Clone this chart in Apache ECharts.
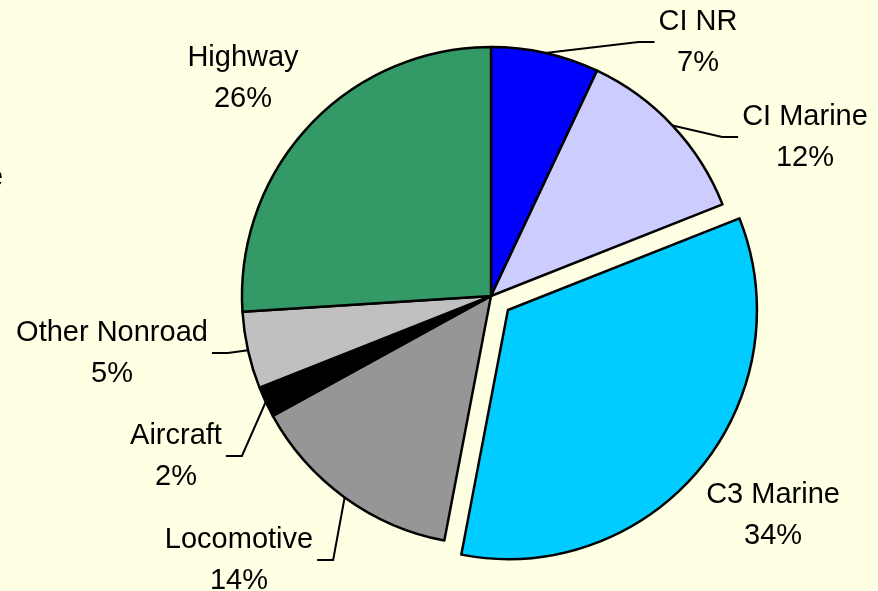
<!DOCTYPE html>
<html>
<head>
<meta charset="utf-8">
<script src="https://cdn.jsdelivr.net/npm/echarts@6/dist/echarts.min.js"></script>
<style>
  html, body { margin: 0; padding: 0; background: #FFFFE4; }
  #divPie { width: 878px; height: 591px; }
</style>
</head>
<body>
<div id="divPie"></div>
<script>
// data, clockwise from 12 o'clock
var arrNames = ['CI NR', 'CI Marine', 'C3 Marine', 'Locomotive', 'Aircraft', 'Other Nonroad', 'Highway'];
var arrPct = [7, 12, 34, 14, 2, 5, 26];
var arrColors = ['#0000FF', '#CCCCFF', '#00CCFF', '#969696', '#000000', '#C0C0C0', '#339966'];
var arrLeader = [true, true, false, true, true, true, false];
// label block centres (px), Excel style placement; null = leave to pie layout
var arrLabelPos = [[698, 42], [805, 137], null, [239, 560], [176, 456], [112, 353], [243, 78]];

var chartPie = echarts.init(document.getElementById('divPie'));

var arrData = [];
for (var intI = 0; intI < arrNames.length; intI++) {
    var objItem = {
        name: arrNames[intI],
        value: arrPct[intI],
        itemStyle: { color: arrColors[intI] },
        labelLine: { show: arrLeader[intI] }
    };
    if (arrNames[intI] == 'C3 Marine') {
        // exploded slice: its label sits in the select state, so steer it with the guide lengths
        objItem.selected = true;
        objItem.labelLine.length = 73;
        objItem.labelLine.length2 = 12;
    };
    arrData.push(objItem);
};

var optPie = {
    backgroundColor: '#FFFFE4',
    animation: false,
    graphic: [{
        type: 'text',
        left: -13,
        top: 163,
        style: { text: 'e', font: '29px "Liberation Sans", Arial', fill: '#000' }
    }],
    series: [{
        type: 'pie',
        center: [491, 296],
        radius: 249,
        startAngle: 90,
        clockwise: true,
        avoidLabelOverlap: false,
        selectedMode: 'single',
        selectedOffset: 22,
        emphasis: { disabled: true },
        select: { itemStyle: { borderColor: '#000', borderWidth: 2.5 } },
        itemStyle: { borderColor: '#000', borderWidth: 2.5 },
        label: {
            show: true,
            position: 'outside',
            formatter: '{b}\n{c}%',
            color: '#000',
            fontFamily: '"Liberation Sans", Arial',
            fontSize: 29,
            lineHeight: 41,
            align: 'center'
        },
        labelLine: {
            show: true,
            length: 20,
            length2: 16,
            lineStyle: { color: '#000', width: 2 }
        },
        labelLayout: function(params) {
            var pos = arrLabelPos[params.dataIndex];
            if (!pos) {
                return { align: 'center', verticalAlign: 'middle' };
            };
            var w = params.labelRect.width;
            var out = { x: pos[0], y: pos[1], align: 'center', verticalAlign: 'middle' };
            if (arrLeader[params.dataIndex] && params.labelLinePoints) {
                var start = params.labelLinePoints[0];
                var endX, bendX;
                if (pos[0] > 491) {
                    endX = pos[0] - w / 2 - 4;
                    bendX = endX - 16;
                } else {
                    endX = pos[0] + w / 2 + 4;
                    bendX = endX + 16;
                };
                out.labelLinePoints = [start, [bendX, pos[1]], [endX, pos[1]]];
            };
            return out;
        },
        data: arrData
    }]
};
chartPie.setOption(optPie);
</script>
</body>
</html>
